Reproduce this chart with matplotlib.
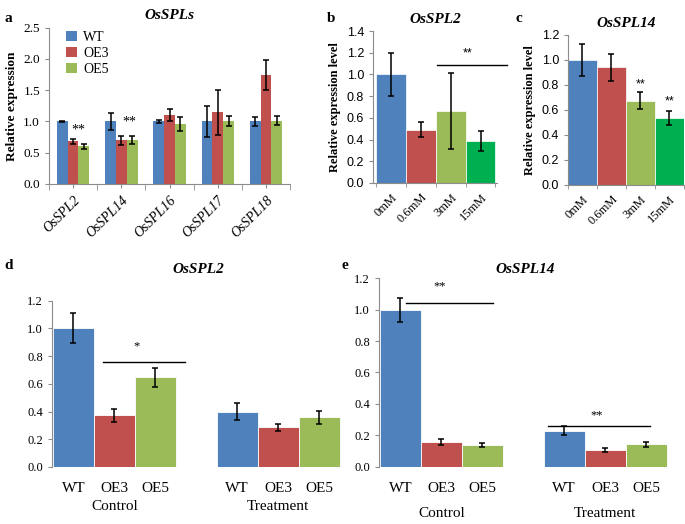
import numpy as np
from matplotlib import pyplot as plt
from matplotlib import transforms

# ---- data ----
# panel a
genes = ["OsSPL2", "OsSPL14", "OsSPL16", "OsSPL17", "OsSPL18"]
lines = ["WT", "OE3", "OE5"]
a_wt = [1.00, 1.00, 1.00, 1.00, 1.00]
a_wt_err = [0.01, 0.14, 0.02, 0.25, 0.07]
a_oe3 = [0.68, 0.70, 1.10, 1.15, 1.74]
a_oe3_err = [0.04, 0.07, 0.10, 0.36, 0.24]
a_oe5 = [0.60, 0.70, 0.96, 1.01, 1.01]
a_oe5_err = [0.045, 0.06, 0.11, 0.08, 0.07]

# panels b, c
doses = ["0mM", "0.6mM", "3mM", "15mM"]
b_vals = [1.00, 0.49, 0.66, 0.39]
b_err = [0.195, 0.07, 0.35, 0.093]
c_vals = [1.00, 0.94, 0.675, 0.535]
c_err = [0.13, 0.11, 0.07, 0.056]

# panels d, e
groups = ["Control", "Treatment"]
d_vals = [1.00, 0.372, 0.646, 0.40, 0.286, 0.358]
d_err = [0.108, 0.046, 0.066, 0.06, 0.024, 0.045]
e_vals = [1.00, 0.157, 0.138, 0.229, 0.106, 0.144]
e_err = [0.077, 0.017, 0.014, 0.028, 0.012, 0.016]

BLUE = "#4F81BD"
RED = "#C0504D"
OLIVE = "#9BBB59"
GREEN = "#00B050"
SPINE = "#8C8C8C"
SERIF = "Liberation Serif"
SANS = "Liberation Sans"

plt.rcParams['font.family'] = SERIF


def style_axes(ax, bottom=True):
    for s in ["top", "right"]:
        ax.spines[s].set_visible(False)
    ax.spines["left"].set_color(SPINE)
    ax.spines["bottom"].set_color(SPINE)
    ax.spines["bottom"].set_visible(bottom)
    ax.tick_params(axis='both', color=SPINE, length=3, width=0.8)


err_kw = dict(ecolor="black", elinewidth=1.1, capsize=2.5, capthick=1.1)

fig = plt.figure(figsize=(6.85, 5.24), dpi=100)

# ---- a ----
ax = fig.add_axes([0.0715, 0.6489, 0.352, 0.2983])
x = np.arange(len(genes))
w = 0.224
ax.bar(x - w, a_wt, w, yerr=a_wt_err, color=BLUE, label=lines[0], error_kw=err_kw)
ax.bar(x, a_oe3, w, yerr=a_oe3_err, color=RED, label=lines[1], error_kw=err_kw)
ax.bar(x + w, a_oe5, w, yerr=a_oe5_err, color=OLIVE, label=lines[2], error_kw=err_kw)
ax.set_xlim(-0.5, 4.45)
ax.set_ylim(0, 2.5)
ax.set_yticks(np.arange(0, 2.51, 0.5))
ax.set_yticklabels([f"{v:.1f}" for v in np.arange(0, 2.51, 0.5)], fontsize=9.5)
ax.set_xticks(x)
ax.set_xticklabels(genes, rotation=45, ha='right', rotation_mode='anchor',
                   fontsize=10, style='italic')
ax.set_xticks(np.arange(-0.5, 4.6, 1), minor=True)
ax.tick_params(axis='x', which='major', length=0, pad=4)
style_axes(ax)
ax.tick_params(axis='x', which='minor', color=SPINE, length=4)
ax.set_ylabel("Relative expression", fontsize=9.5, fontweight='bold')
ax.set_title("OsSPLs", fontsize=11, fontweight='bold', style='italic', pad=6)
ax.legend(loc='upper left', bbox_to_anchor=(0.02, 1.06), frameon=False, fontsize=10,
          handlelength=0.8, handleheight=0.8, handletextpad=0.4, labelspacing=0.2)
ax.text(0.11, 0.76, "**", ha='center', va='bottom', fontsize=10)
ax.text(1.16, 0.88, "**", ha='center', va='bottom', fontsize=10)
fig.text(0.007, 0.977, "a", fontsize=11, fontweight='bold', va='top')

# ---- b ----
ax = fig.add_axes([0.5445, 0.6508, 0.181, 0.290])
x = np.arange(len(doses))
ax.bar(x, b_vals, 1.0, yerr=b_err, color=[BLUE, RED, OLIVE, GREEN],
       edgecolor='white', linewidth=0.5, error_kw=err_kw)
ax.set_xlim(-0.61, 3.55)
ax.set_ylim(0, 1.4)
ticks = np.arange(0, 1.41, 0.2)
ax.set_yticks(ticks)
ax.set_yticklabels([f"{v:.1f}" for v in ticks], fontsize=9, family=SANS)
ax.set_xticks(x)
ax.set_xticklabels(doses, rotation=45, ha='right', rotation_mode='anchor', fontsize=9)
ax.set_xticks(np.arange(-0.5, 3.6, 1), minor=True)
style_axes(ax)
ax.tick_params(axis='x', which='major', length=0, pad=6)
ax.tick_params(axis='x', which='minor', color=SPINE, length=3)
ax.set_ylabel("Relative expression level", fontsize=9, fontweight='bold')
ax.set_title("OsSPL2", fontsize=11, fontweight='bold', style='italic', pad=6)
ax.plot([1.55, 3.9], [1.084, 1.084], color='black', lw=1, clip_on=False)
ax.text(2.55, 1.14, "**", ha='center', va='bottom', fontsize=9, family=SANS)
fig.text(0.477, 0.977, "b", fontsize=11, fontweight='bold', va='top')

# ---- c ----
ax = fig.add_axes([0.8292, 0.647, 0.1693, 0.2863])
ax.bar(x, c_vals, 1.0, yerr=c_err, color=[BLUE, RED, OLIVE, GREEN],
       edgecolor='white', linewidth=0.5, error_kw=err_kw)
ax.set_xlim(-0.5, 3.5)
ax.set_ylim(0, 1.2)
ticks = np.arange(0, 1.21, 0.2)
ax.set_yticks(ticks)
ax.set_yticklabels([f"{v:.1f}" for v in ticks], fontsize=9, family=SANS)
ax.set_xticks(x)
ax.set_xticklabels(doses, rotation=45, ha='right', rotation_mode='anchor', fontsize=9)
ax.set_xticks(np.arange(-0.5, 3.6, 1), minor=True)
style_axes(ax)
ax.tick_params(axis='x', which='major', length=0, pad=6)
ax.tick_params(axis='x', which='minor', color=SPINE, length=3)
ax.set_ylabel("Relative expression level", fontsize=9, fontweight='bold')
ax.set_title("OsSPL14", fontsize=11, fontweight='bold', style='italic', pad=6)
ax.text(2, 0.76, "**", ha='center', va='bottom', fontsize=9, family=SANS)
ax.text(3, 0.62, "**", ha='center', va='bottom', fontsize=9, family=SANS)
fig.text(0.753, 0.977, "c", fontsize=11, fontweight='bold', va='top')

# ---- d / e ----
pos = [0, 1, 2, 4, 5, 6]
cols = [BLUE, RED, OLIVE] * 2


def group_panel(rect, vals, errs, title, title_pad, group_y):
    ax = fig.add_axes(rect)
    ax.bar(pos, vals, 1.0, yerr=errs, color=cols, edgecolor='white',
           linewidth=0.6, error_kw=err_kw)
    ax.set_xlim(-0.52, 6.6)
    ax.set_ylim(0, 1.2)
    ticks = np.arange(0, 1.21, 0.2)
    ax.set_yticks(ticks)
    ax.set_yticklabels([f"{v:.1f}" for v in ticks], fontsize=9)
    ax.set_xticks(pos)
    ax.set_xticklabels(lines * 2, fontsize=11)
    style_axes(ax, bottom=False)
    ax.tick_params(axis='x', length=0, pad=11)
    ax.set_title(title, fontsize=11, fontweight='bold', style='italic', pad=title_pad)
    trans = transforms.blended_transform_factory(ax.transData, ax.transAxes)
    ax.text(1, group_y, groups[0], transform=trans, ha='center', va='center', fontsize=11)
    ax.text(5, group_y, groups[1], transform=trans, ha='center', va='center', fontsize=11)
    return ax


ax = group_panel([0.0759, 0.1088, 0.426, 0.3174], d_vals, d_err, "OsSPL2", 20, -0.235)
ax.plot([0.72, 2.72], [0.758, 0.758], color='black', lw=1)
ax.text(1.55, 0.83, "*", ha='center', va='bottom', fontsize=9)
fig.text(0.007, 0.505, "d", fontsize=11, fontweight='bold', va='top')

ax = group_panel([0.5533, 0.1094, 0.426, 0.3595], e_vals, e_err, "OsSPL14", 4, -0.25)
ax.plot([0.15, 2.25], [1.045, 1.045], color='black', lw=1)
ax.text(0.96, 1.11, "**", ha='center', va='bottom', fontsize=9)
ax.plot([3.6, 6.1], [0.259, 0.259], color='black', lw=1)
ax.text(4.8, 0.29, "**", ha='center', va='bottom', fontsize=9)
fig.text(0.499, 0.505, "e", fontsize=11, fontweight='bold', va='top')

fig.savefig("out.png", dpi=100)
